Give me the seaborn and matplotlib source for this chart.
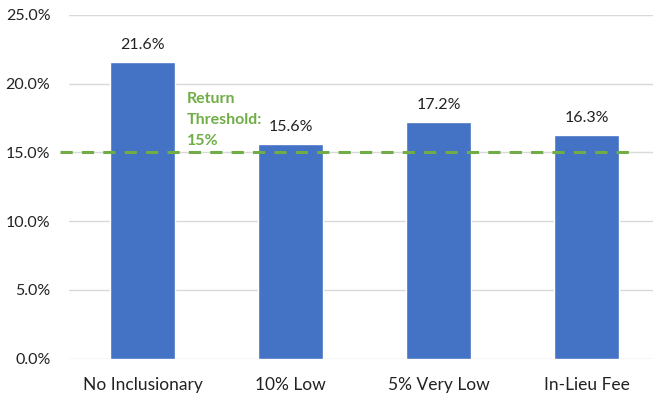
import matplotlib
matplotlib.use("Agg")
import matplotlib.pyplot as plt
import seaborn as sns
import pandas as pd
from matplotlib.ticker import FuncFormatter

categories = ["No Inclusionary", "10% Low", "5% Very Low", "In-Lieu Fee"]
returns = [21.6, 15.6, 17.2, 16.3]
threshold = 15.0
threshold_label = "Return\nThreshold:\n15%"
y_ticks = [0, 5, 10, 15, 20, 25]

sns.set_theme(style="white")
plt.rcParams["font.family"] = ["Lato", "DejaVu Sans"]

df = pd.DataFrame({"scenario": categories, "irr": returns})

fig = plt.figure(figsize=(6.53, 3.94), dpi=100)
W, H = 653, 394
ax = fig.add_axes([68.5 / W, 1 - 358.5 / H, 592 / W, (358.5 - 15) / H])

sns.barplot(data=df, x="scenario", y="irr", color="#4472C4", width=0.44,
            saturation=1, ax=ax, zorder=3)

ax.set_ylim(0, 25)
ax.set_xlim(-0.5, 3.5)
ax.set_yticks(y_ticks)
ax.yaxis.set_major_formatter(FuncFormatter(lambda v, _: f"{v:.1f}%"))
ax.grid(axis="y", color="#D9D9D9", linewidth=1, zorder=0)
ax.set_axisbelow(True)
for s in ax.spines.values():
    s.set_visible(False)
ax.set_xlabel("")
ax.set_ylabel("")
ax.tick_params(axis="y", length=0, pad=13, labelsize=11.5, labelcolor="#222222")
ax.tick_params(axis="x", length=0, pad=13, labelsize=12.5, labelcolor="#222222")

for i, v in enumerate(returns):
    ax.annotate(f"{v:.1f}%", (i, v), xytext=(0, 7), textcoords="offset points",
                ha="center", va="bottom", fontsize=11.5, color="#222222")

ax.plot([-0.56, 3.29], [threshold, threshold], color="#70AD47", linewidth=2.2,
        linestyle=(0, (4, 3)), zorder=4, clip_on=False)
ax.text(0.3, threshold + 0.35, threshold_label, color="#70AD47", fontsize=11.5,
        fontweight="bold", ha="left", va="bottom", linespacing=1.6)

fig.savefig("out.png", dpi=100)
